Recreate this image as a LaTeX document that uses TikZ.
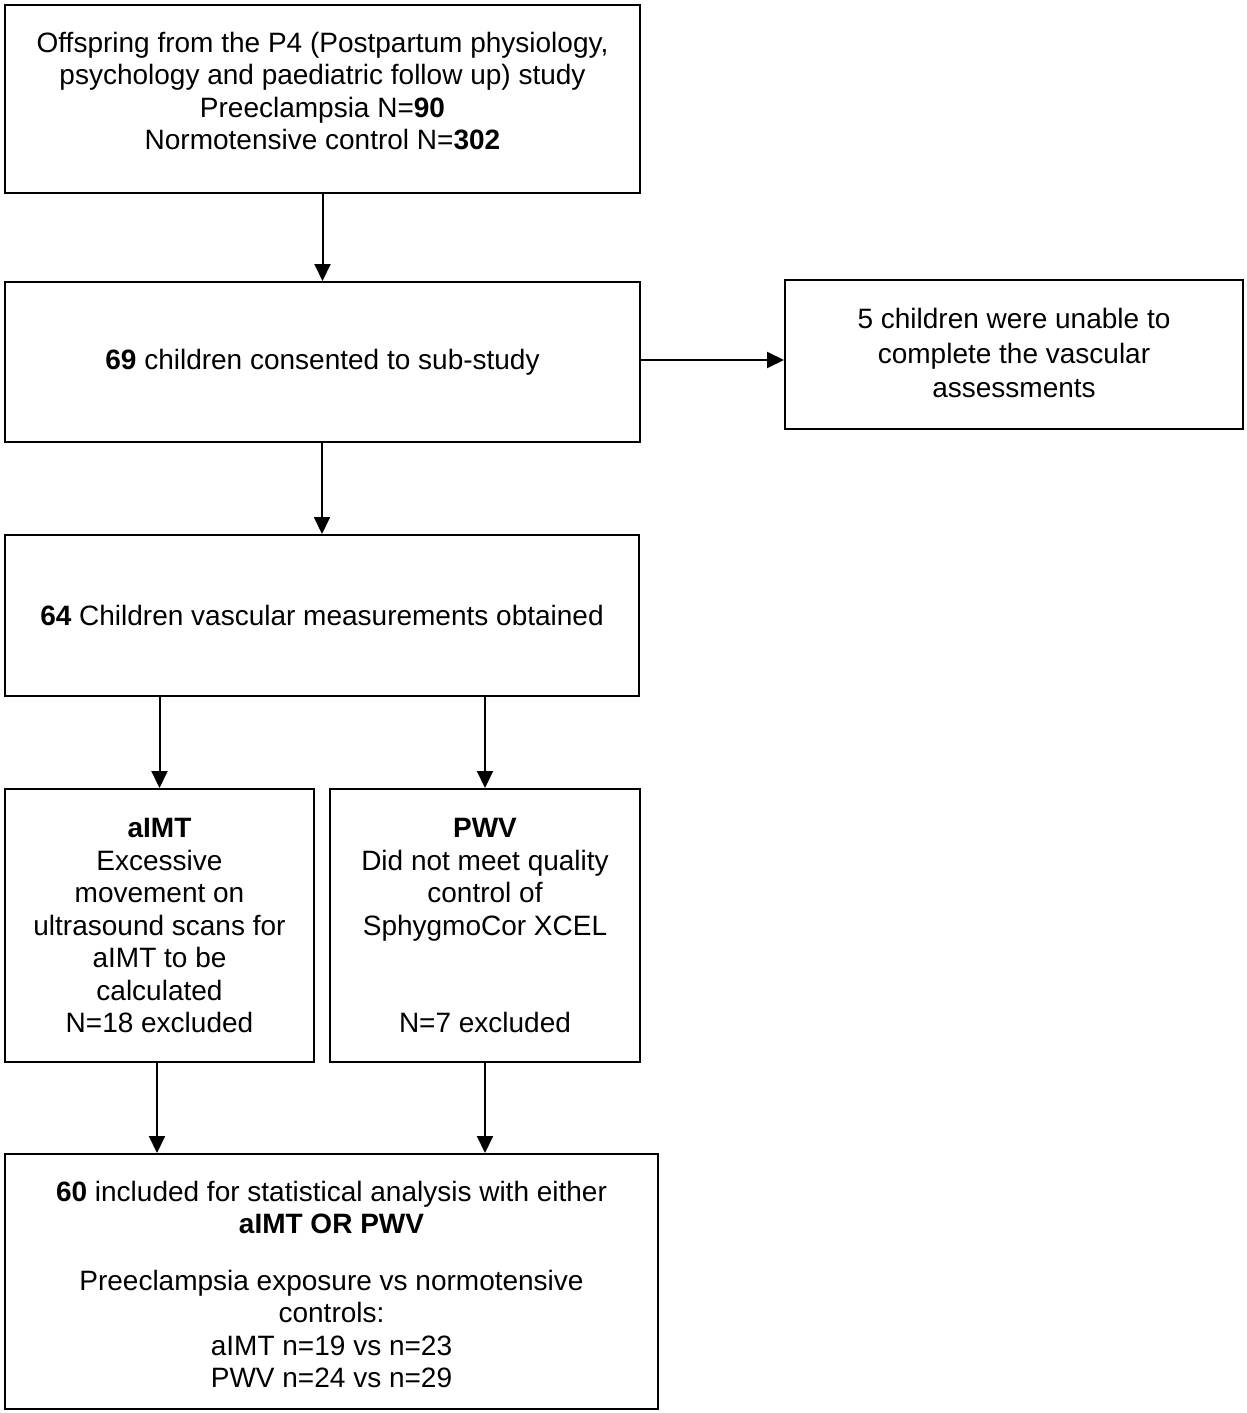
\documentclass[tikz,border=0pt]{standalone}
\usepackage{fontspec}
\setmainfont{Liberation Sans}
\usetikzlibrary{arrows.meta}
\begin{document}
\begin{tikzpicture}[x=1pt,y=-1pt,
  box/.style={draw=black,line width=2pt,rectangle,inner sep=0pt,align=center,
    font=\fontsize{28}{32.5}\selectfont},
  txt/.style={inner sep=0pt,align=center,font=\fontsize{28}{32.5}\selectfont},
  arr/.style={line width=2pt,-{Triangle[length=17pt,width=16pt]}}]
\useasboundingbox (0,0) rectangle (1247,1413);
\node[box,minimum width=635pt,minimum height=188pt] (top) at (322.5,99) {};
\node[txt] (toptext) at (322.5,91) {Offspring from the P4 (Postpartum physiology,\\psychology and paediatric follow up) study\\Preeclampsia N=\textbf{90}\\Normotensive control N=\textbf{302}};
\node[box,minimum width=635pt,minimum height=160pt] (box2) at (322.5,362) {\textbf{69} children consented to sub-study};
\node[box,minimum width=458pt,minimum height=149pt] (right) at (1014,354.5) {};
\node[txt] (righttext) at (1014,353) {5 children were unable to\\[2pt]complete the vascular\\[2pt]assessments};
\node[box,minimum width=634pt,minimum height=161pt] (box3) at (322,615.5) {\textbf{64} Children vascular measurements obtained};
\node[box,minimum width=309pt,minimum height=273pt] (aimt) at (159.5,925.5) {\textbf{aIMT}\\Excessive\\movement on\\ultrasound scans for\\aIMT to be\\calculated\\N=18 excluded};
\node[box,minimum width=310pt,minimum height=273pt] (pwv) at (485,925.5) {\textbf{PWV}\\Did not meet quality\\control of\\SphygmoCor XCEL\\[65pt]N=7 excluded};
\node[box,minimum width=653pt,minimum height=255pt] (bottom) at (331.5,1281.5) {};
\node[txt] (bottomtext) at (331.5,1284.5) {\textbf{60} included for statistical analysis with either\\\textbf{aIMT OR PWV}\\[24pt]Preeclampsia exposure vs normotensive\\controls:\\aIMT n=19 vs n=23\\PWV n=24 vs n=29};
\draw[arr] (top.south) -- (box2.north);
\draw[arr] (box3.north |- box2.south) -- (box3.north);
\draw[arr] ([yshift=2pt]box2.east) -- ([yshift=2pt]box2.east -| right.west);
\draw[arr] (aimt.north |- box3.south) -- (aimt.north);
\draw[arr] (pwv.north |- box3.south) -- (pwv.north);
\draw[arr] ([xshift=-2.5pt]aimt.south) -- ([xshift=-2.5pt]aimt.south |- bottom.north);
\draw[arr] (pwv.south) -- (pwv.south |- bottom.north);
\end{tikzpicture}
\end{document}
